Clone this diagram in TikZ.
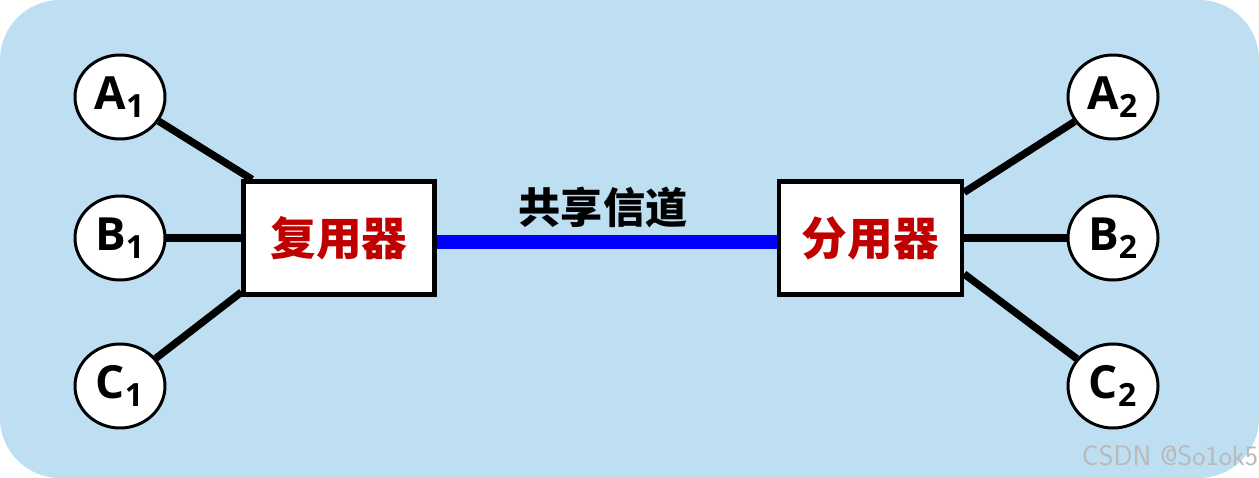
\documentclass[tikz,border=0pt]{standalone}
\usepackage{fontspec}
\setmainfont{Open Sans}
\newfontfamily\cjk{Noto Sans CJK SC}
\usetikzlibrary{shapes.geometric}
\definecolor{bgblue}{RGB}{190,222,242}
\definecolor{darkred}{RGB}{192,0,0}
\tikzset{
    station/.style={ellipse, draw, line width=1.7pt, fill=white,
        minimum width=1.8cm, minimum height=1.68cm, inner sep=0pt,
        font=\fontsize{26}{29}\selectfont\bfseries},
    muxbox/.style={rectangle, draw, line width=2.4pt, fill=white,
        minimum height=2.26cm, inner sep=0pt,
        text=darkred, font=\fontsize{26}{30}\selectfont\cjk\bfseries},
    link/.style={line width=4.2pt}
}
\begin{document}
\begin{tikzpicture}
    % background panel
    \fill[bgblue, rounded corners=1.2cm] (0,0) rectangle (25.18,-9.56);
    \useasboundingbox (0,0) rectangle (25.18,-9.56);

    % multiplexer and demultiplexer
    \node[muxbox, minimum width=3.82cm] (mux) at (6.78,-4.76) {复用器};
    \node[muxbox, minimum width=3.66cm] (demux) at (17.41,-4.76) {分用器};

    % senders and receivers
    \node[station] (A1) at (2.4,-1.94) {A$_{\mathbf 1}$};
    \node[station] (B1) at (2.4,-4.76) {B$_{\mathbf 1}$};
    \node[station] (C1) at (2.4,-7.72) {C$_{\mathbf 1}$};
    \node[station] (A2) at (22.26,-1.94) {A$_{\mathbf 2}$};
    \node[station] (B2) at (22.26,-4.76) {B$_{\mathbf 2}$};
    \node[station] (C2) at (22.26,-7.72) {C$_{\mathbf 2}$};

    \draw[link] (A1) -- (mux.146);
    \draw[link] (B1) -- (mux);
    \draw[link] (C1) -- (mux.209);
    \draw[link] (A2) -- (demux.26);
    \draw[link] (B2) -- (demux);
    \draw[link] (C2) -- (demux.-21);

    % shared channel
    \draw[blue, line width=8.5pt] ([yshift=-0.08cm]mux.east) -- ([yshift=-0.08cm]demux.west);
    \node[font=\fontsize{24}{28}\selectfont\cjk\bfseries] (chan) at (12.06,-4.16) {共享信道};

    \node[text=gray!55, font=\fontsize{16}{19}\selectfont\sffamily] (mark) at (23.4,-9.12) {CSDN @So1ok5};
\end{tikzpicture}
\end{document}
